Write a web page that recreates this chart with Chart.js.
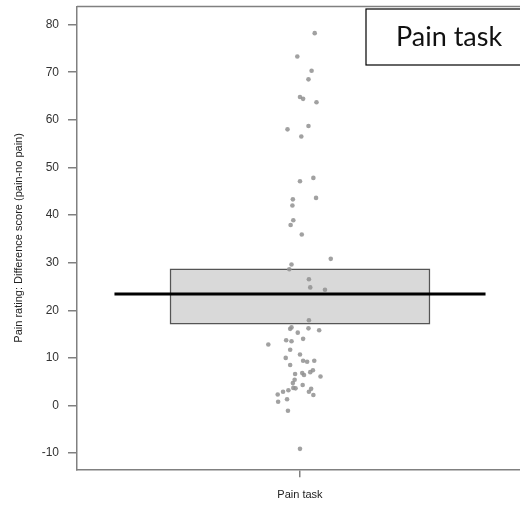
<!DOCTYPE html>
<html>
<head>
<meta charset="utf-8">
<script src="https://cdn.jsdelivr.net/npm/chart.js@4/dist/chart.umd.min.js"></script>
<style>
  html, body { margin: 0; padding: 0; background: #fff; }
  #wrap { width: 520px; height: 509px; position: relative; }
</style>
</head>
<body>
<div id="wrap"><canvas id="chart"></canvas></div>
<script>
// data
const category = 'Pain task';
const scores = [
  78.2, 73.3, 70.3, 68.5, 64.8, 64.4, 63.7, 58.7, 58.0, 56.5,
  47.8, 47.1, 43.3, 43.6, 42.0, 38.9, 37.9, 35.9, 30.8, 29.6,
  28.6, 26.5, 24.8, 24.3, 17.9, 16.4, 16.1, 16.2, 15.8, 15.3,
  12.8, 13.7, 13.5, 14.0, 11.7, 10.7, 10.0, 9.4, 9.2, 9.4,
  8.5, 6.6, 6.8, 6.4, 7.0, 7.4, 6.1, 5.4, 4.7, 3.7,
  3.6, 4.3, 3.5, 2.9, 2.2, 3.2, 2.9, 2.3, 0.8, 1.3,
  -1.1, -9.1
];
// horizontal jitter of each point (fraction of one category width)
const jitter = [
  0.033, -0.006, 0.026, 0.019, 0.000, 0.007, 0.037, 0.019, -0.028, 0.003,
  0.030, 0.000, -0.016, 0.036, -0.017, -0.015, -0.021, 0.004, 0.069, -0.019,
  -0.024, 0.020, 0.023, 0.056, 0.020, -0.019, -0.022, 0.019, 0.043, -0.005,
  -0.071, -0.031, -0.019, 0.007, -0.022, 0.000, -0.032, 0.007, 0.016, 0.032,
  -0.022, -0.011, 0.005, 0.009, 0.023, 0.029, 0.046, -0.012, -0.016, -0.015,
  -0.010, 0.006, 0.025, 0.020, 0.030, -0.026, -0.038, -0.050, -0.049, -0.029,
  -0.027, 0.000
];
const ciLow = 17.1;
const ciHigh = 28.7;
const meanScore = 23.4;
const yTicks = [-10, 0, 10, 20, 30, 40, 50, 60, 70, 80];

const meanHalfWidth = 0.416;

const points = scores.map((v, i) => ({ x: 1 + jitter[i], y: v }));

const frame = {
  id: 'frame',
  afterDraw(chart) {
    const { ctx, chartArea } = chart;
    ctx.save();
    // top edge of the plot box
    ctx.strokeStyle = '#808080';
    ctx.lineWidth = 1.5;
    ctx.beginPath();
    ctx.moveTo(chartArea.left, chartArea.top);
    ctx.lineTo(chartArea.right, chartArea.top);
    ctx.stroke();
    // label box in the corner
    ctx.fillStyle = '#fff';
    ctx.fillRect(366, 9, 160, 56);
    ctx.strokeStyle = '#000';
    ctx.lineWidth = 1.2;
    ctx.strokeRect(366, 9, 160, 56);
    ctx.fillStyle = '#111';
    ctx.font = '27px Lato';
    ctx.textBaseline = 'middle';
    ctx.fillText(category, 396, 37);
    ctx.restore();
  }
};

new Chart(document.getElementById('chart'), {
  data: {
    datasets: [
      {
        type: 'bar',
        data: [{ x: 1, y: [ciLow, ciHigh] }],
        backgroundColor: '#d9d9d9',
        borderColor: '#555',
        borderWidth: 1.5,
        borderSkipped: false,
        barThickness: 260,
        order: 3
      },
      {
        type: 'line',
        data: [{ x: 1 - meanHalfWidth, y: meanScore }, { x: 1 + meanHalfWidth, y: meanScore }],
        borderColor: '#000',
        borderWidth: 3,
        pointRadius: 0,
        order: 2
      },
      {
        type: 'scatter',
        data: points,
        backgroundColor: 'rgba(145,145,145,0.85)',
        borderColor: 'rgba(145,145,145,0.85)',
        borderWidth: 0,
        pointRadius: 2.3,
        order: 1
      }
    ]
  },
  options: {
    responsive: true,
    maintainAspectRatio: false,
    animation: false,
    layout: { autoPadding: false, padding: { top: 6.5, right: 0, left: 0, bottom: 0 } },
    plugins: { legend: { display: false }, tooltip: { enabled: false } },
    scales: {
      x: {
        type: 'linear',
        offset: false,
        min: 0.5,
        max: 1.4933,
        afterFit(scale) {
          scale.height = 39.7;
          scale.paddingLeft = 0;
          scale.paddingRight = 0;
        },
        afterBuildTicks(scale) { scale.ticks = [{ value: 1 }]; },
        grid: { drawOnChartArea: false, drawTicks: true, tickLength: 8, color: '#808080', lineWidth: 1.5, offset: false },
        border: { display: true, color: '#808080', width: 1.5 },
        ticks: {
          callback: () => category,
          color: '#222',
          padding: 11,
          maxRotation: 0,
          font: { family: 'Liberation Sans', size: 11 }
        }
      },
      y: {
        type: 'linear',
        min: -13.4,
        max: 83.8,
        afterFit(scale) {
          scale.width = 77;
          scale.paddingTop = 0;
          scale.paddingBottom = 0;
        },
        afterBuildTicks(scale) { scale.ticks = yTicks.map(v => ({ value: v })); },
        grid: { drawOnChartArea: false, drawTicks: true, tickLength: 9, color: '#808080', lineWidth: 1.5 },
        border: { display: true, color: '#808080', width: 1.5 },
        ticks: {
          color: '#333',
          padding: 9,
          font: { family: 'Liberation Sans', size: 12 }
        },
        title: {
          display: true,
          text: 'Pain rating: Difference score (pain-no pain)',
          color: '#222',
          padding: { top: 12, bottom: 0 },
          font: { family: 'Liberation Sans', size: 11 }
        }
      }
    }
  },
  plugins: [frame]
});
</script>
</body>
</html>
